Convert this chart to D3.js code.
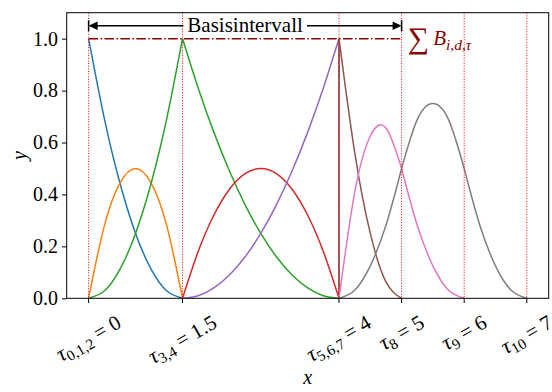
<!DOCTYPE html>
<html>
<head>
<meta charset="utf-8">
<script src="https://d3js.org/d3.v7.min.js"></script>
<style>
  body { margin: 0; background: #fff; }
  svg text { font-family: "Liberation Serif", serif; fill: #000; }
</style>
</head>
<body>
<script>
const _ = null;

// sample positions shared by all basis functions
const xGrid = [0, 0.25, 0.5, 0.75, 1, 1.25, 1.5, 1.75, 2, 2.25, 2.5, 2.75, 3, 3.25, 3.5, 3.75,
               4, 4.25, 4.5, 4.75, 5, 5.25, 5.5, 5.75, 6, 6.25, 6.5, 6.75, 7];

// knot positions and their tick labels [subscript, value]
const knots = [0, 1.5, 4, 5, 6, 7];
const knotLabels = [["0,1,2", "0"], ["3,4", "1.5"], ["5,6,7", "4"], ["8", "5"], ["9", "6"], ["10", "7"]];
const yTicks = [0, 0.2, 0.4, 0.6, 0.8, 1.0];

// basis functions (null = outside support)
const b0 = [1, 0.694, 0.444, 0.25, 0.111, 0.028, 0, _, _, _, _, _, _, _, _, _, _, _, _, _, _, _, _, _, _, _, _, _, _];
const b1 = [0, 0.278, 0.444, 0.5, 0.444, 0.278, 0, _, _, _, _, _, _, _, _, _, _, _, _, _, _, _, _, _, _, _, _, _, _];
const b2 = [0, 0.028, 0.111, 0.25, 0.444, 0.694, 1, 0.81, 0.64, 0.49, 0.36, 0.25, 0.16, 0.09, 0.04, 0.01, 0, _, _, _, _, _, _, _, _, _, _, _, _];
const b3 = [_, _, _, _, _, _, 0, 0.18, 0.32, 0.42, 0.48, 0.5, 0.48, 0.42, 0.32, 0.18, 0, _, _, _, _, _, _, _, _, _, _, _, _];
const b4 = [_, _, _, _, _, _, 0, 0.01, 0.04, 0.09, 0.16, 0.25, 0.36, 0.49, 0.64, 0.81, 1, _, _, _, _, _, _, _, _, _, _, _, _];
const b5 = [_, _, _, _, _, _, _, _, _, _, _, _, _, _, _, _, 1, 0.563, 0.25, 0.063, 0, _, _, _, _, _, _, _, _];
const b6 = [_, _, _, _, _, _, _, _, _, _, _, _, _, _, _, _, 0, 0.406, 0.625, 0.656, 0.5, 0.281, 0.125, 0.031, 0, _, _, _, _];
const b7 = [_, _, _, _, _, _, _, _, _, _, _, _, _, _, _, _, 0, 0.031, 0.125, 0.281, 0.5, 0.688, 0.75, 0.688, 0.5, 0.281, 0.125, 0.031, 0];

const basis = [b0, b1, b2, b3, b4, b5, b6, b7];
const colors = ["#1f77b4", "#ff7f0e", "#2ca02c", "#d62728", "#9467bd", "#8c564b", "#e377c2", "#7f7f7f"];

// sum of basis functions = 1 on the basis interval
const sumValue = 1;
const spanFrom = 0, spanTo = 5, spanY = 1.05;
const spanLabel = "Basisintervall";

const W = 552, H = 392;
const plot = {left: 66.7, right: 548.7, top: 12.7, bottom: 298.3};

const svg = d3.select("body").append("svg").attr("width", W).attr("height", H);

const x = d3.scaleLinear().domain([-0.35, 7.35]).range([plot.left, plot.right]);
const y = d3.scaleLinear().domain([0, 1.1]).range([plot.bottom, plot.top]);

svg.append("defs").append("clipPath").attr("id", "clip")
    .append("rect").attr("x", plot.left).attr("y", plot.top)
    .attr("width", plot.right - plot.left).attr("height", plot.bottom - plot.top);

const g = svg.append("g").attr("clip-path", "url(#clip)");

// curves, drawn piecewise between knots
const smooth = d3.line().x(d => x(d[0])).y(d => y(d[1])).curve(d3.curveNatural);
const straight = d3.line().x(d => x(d[0])).y(d => y(d[1]));

basis.forEach((vals, si) => {
    const pts = xGrid.map((xv, i) => [xv, vals[i]]).filter(p => p[1] !== null);
    for (let k = 0; k < knots.length - 1; k++) {
        const piece = pts.filter(p => p[0] >= knots[k] && p[0] <= knots[k + 1]);
        if (piece.length < 2) continue;
        g.append("path").attr("d", smooth(piece))
            .attr("fill", "none").attr("stroke", colors[si]).attr("stroke-width", 1.5);
    }
    const first = pts[0], last = pts[pts.length - 1];
    if (first[1] > 0 && first[0] > knots[0]) {
        g.append("path").attr("d", straight([[first[0], 0], first]))
            .attr("fill", "none").attr("stroke", colors[si]).attr("stroke-width", 1.5);
    }
    if (last[1] > 0 && last[0] < knots[knots.length - 1]) {
        g.append("path").attr("d", straight([last, [last[0], 0]]))
            .attr("fill", "none").attr("stroke", colors[si]).attr("stroke-width", 1.5);
    }
});

// knot lines
g.selectAll(".knot").data(knots).enter().append("line")
    .attr("x1", d => x(d)).attr("x2", d => x(d))
    .attr("y1", plot.top).attr("y2", plot.bottom)
    .attr("stroke", "red").attr("stroke-width", 1).attr("stroke-dasharray", "1,1.65");

// sum line
g.append("line")
    .attr("x1", x(spanFrom)).attr("x2", x(spanTo))
    .attr("y1", y(sumValue)).attr("y2", y(sumValue))
    .attr("stroke", "#8b0000").attr("stroke-width", 1.5)
    .attr("stroke-dasharray", "9.6,2.4,1.5,2.4");

// double arrow with end bars
const ay = y(spanY), ax0 = x(spanFrom), ax1 = x(spanTo);
g.append("line").attr("x1", ax0 + 4).attr("x2", ax1 - 4).attr("y1", ay).attr("y2", ay)
    .attr("stroke", "#000").attr("stroke-width", 1.5);
[[ax0, 1], [ax1, -1]].forEach(([px, dir]) => {
    g.append("line").attr("x1", px).attr("x2", px).attr("y1", ay - 5.5).attr("y2", ay + 5.5)
        .attr("stroke", "#000").attr("stroke-width", 1.5);
    g.append("path")
        .attr("d", `M${px},${ay} L${px + dir * 9},${ay - 4.2} L${px + dir * 9},${ay + 4.2} Z`)
        .attr("fill", "#000");
});

const lbl = g.append("text").attr("x", x((spanFrom + spanTo) / 2)).attr("y", ay + 6.5)
    .attr("text-anchor", "middle").style("font-size", "21px").text(spanLabel);
const lb = lbl.node().getBBox();
g.insert("rect", "text").attr("x", lb.x - 4).attr("y", ay - 10).attr("width", lb.width + 8)
    .attr("height", 20).attr("fill", "#fff");

// sum annotation
const st = g.append("text").attr("x", x(5.1)).attr("y", y(sumValue) + 6.5)
    .style("fill", "#8b0000").style("font-size", "21px");
st.append("tspan").style("font-size", "30px").attr("dy", 2.5).text("\u2211");
st.append("tspan").style("font-style", "italic").attr("dx", 4).attr("dy", -2.5).text("B");
st.append("tspan").style("font-style", "italic").style("font-size", "15.5px").attr("dy", 5).text("i,d,\u03c4");

// frame
svg.append("rect").attr("x", plot.left).attr("y", plot.top)
    .attr("width", plot.right - plot.left).attr("height", plot.bottom - plot.top)
    .attr("fill", "none").attr("stroke", "#000").attr("stroke-width", 1);

// y axis
const yAxis = svg.append("g").attr("transform", `translate(${plot.left},0)`)
    .call(d3.axisLeft(y).tickValues(yTicks).tickFormat(d3.format(".1f")).tickSize(4.7).tickPadding(4));
yAxis.select(".domain").remove();
yAxis.selectAll("text").style("font-size", "20px").attr("font-family", null);
yAxis.selectAll("line").attr("stroke-width", 1);

// x ticks
svg.selectAll(".xtick").data(knots).enter().append("line")
    .attr("x1", d => x(d)).attr("x2", d => x(d))
    .attr("y1", plot.bottom).attr("y2", plot.bottom + 4.7)
    .attr("stroke", "#000").attr("stroke-width", 1);

// rotated x tick labels, centred under the tick
knots.forEach((k, i) => {
    const grp = svg.append("g");
    const t = grp.append("text").style("font-size", "21px");
    t.append("tspan").style("font-style", "italic").style("font-size", "22px").text("\u03c4");
    t.append("tspan").style("font-size", "15px").attr("dy", 4).text(knotLabels[i][0]);
    t.append("tspan").attr("dy", -4).text(" = " + knotLabels[i][1]);
    const bb = t.node().getBBox();
    const a = Math.PI / 6;
    const rh = bb.width * Math.sin(a) + bb.height * Math.cos(a);
    t.attr("transform", `translate(${-bb.x - bb.width / 2},${-bb.y - bb.height / 2})`);
    grp.attr("transform", `translate(${x(k)},${plot.bottom + 11 + rh / 2}) rotate(-30)`);
});

// axis titles
svg.append("text").attr("x", (plot.left + plot.right) / 2).attr("y", 384)
    .attr("text-anchor", "middle").style("font-size", "20px").style("font-style", "italic").text("x");
svg.append("text").attr("transform", `translate(26,${(plot.top + plot.bottom) / 2}) rotate(-90)`)
    .attr("text-anchor", "middle").style("font-size", "20px").style("font-style", "italic").text("y");
</script>
</body>
</html>
